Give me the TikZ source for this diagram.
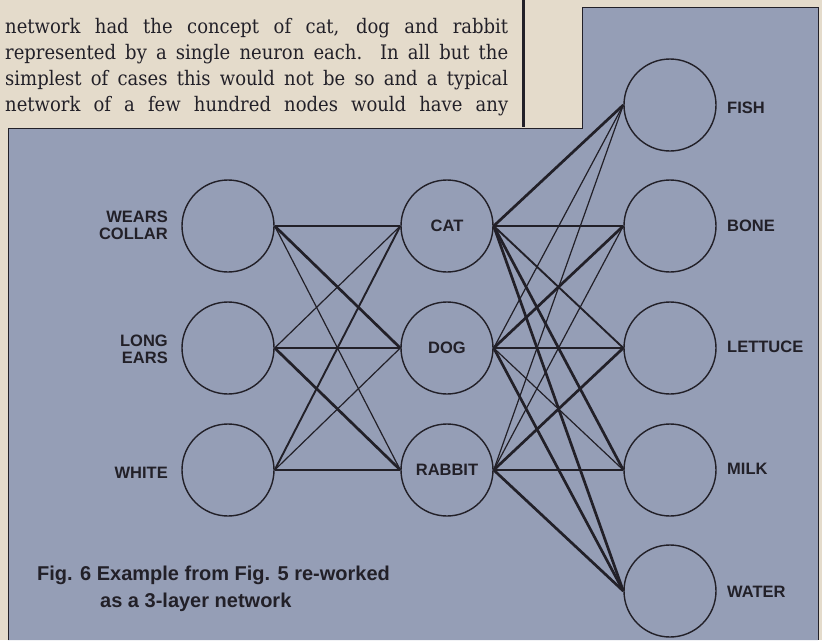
\documentclass[tikz,border=0pt]{standalone}
\usepackage{fontspec}
\setmainfont{DejaVu Serif}[FakeStretch = 0.9]
\setsansfont{Liberation Sans}
\usepackage{tikz}
\usetikzlibrary{arrows, arrows.meta}
\definecolor{paper}{RGB}{228,219,203}
\definecolor{panel}{RGB}{149,158,182}
\definecolor{ink}{RGB}{34,32,40}
\tikzset{neuron/.style = {shape = circle, draw = ink, line width = 1.4pt, minimum size = 92pt, inner sep = 0pt, text = ink, font = \sffamily\bfseries\fontsize{16.5}{17}\selectfont}}
\tikzset{inlabel/.style = {text = ink, align = right, anchor = east, inner sep = 0pt, font = \sffamily\bfseries\fontsize{16.5}{17}\selectfont}}
\tikzset{outlabel/.style = {text = ink, anchor = west, inner sep = 0pt, font = \sffamily\bfseries\fontsize{16.5}{17}\selectfont}}
\tikzset{figcaption/.style = {text = ink, anchor = base west, inner sep = 0pt, font = \sffamily\bfseries\fontsize{20}{24}\selectfont}}
\tikzset{bodytext/.style = {text = ink, anchor = base west, inner sep = 0pt, font = \fontsize{20}{27}\selectfont}}
\tikzset{edge/.style = {-, draw = ink, line width = 1.2pt}}
\tikzset{mid/.style = {edge, line width = 1.9pt}}
\tikzset{strong/.style = {edge, line width = 2.7pt}}

\begin{document}
\begin{tikzpicture}[x = 1pt, y = -1pt]
				\useasboundingbox (0, 0) rectangle (822, 640);
				\fill[paper] (0, 0) rectangle (822, 640);
				\fill[panel] (8, 640) -- (8, 128) -- (582, 128) -- (582, 7) -- (818, 7) -- (818, 640) -- cycle;
				\draw[ink, line width = 1pt] (8, 640) -- (8, 128) -- (582, 128) -- (582, 7) -- (818, 7) -- (818, 640);
				\draw[ink, line width = 3pt] (523, 0) -- (523, 127);

				\node[bodytext] (l1) at (5, 33) {\makebox[503pt][s]{network had the concept of cat, dog and rabbit}};
				\node[bodytext] (l2) at (5, 59) {\makebox[503pt][s]{represented by a single neuron each. In all but the}};
				\node[bodytext] (l3) at (5, 85) {\makebox[503pt][s]{simplest of cases this would not be so and a typical}};
				\node[bodytext] (l4) at (5, 111) {\makebox[503pt][s]{network of a few hundred nodes would have any}};

				\node[neuron] (collar) at (228, 226) {};
				\node[neuron] (ears) at (228, 348) {};
				\node[neuron] (white) at (228, 470) {};

				\node[neuron] (cat) at (447, 226) {CAT};
				\node[neuron] (dog) at (447, 348) {DOG};
				\node[neuron] (rabbit) at (447, 470) {RABBIT};

				\node[neuron] (fish) at (670, 105) {};
				\node[neuron] (bone) at (670, 226) {};
				\node[neuron] (lettuce) at (670, 348) {};
				\node[neuron] (milk) at (670, 470) {};
				\node[neuron] (water) at (670, 591) {};

				\node[inlabel] (tcollar) at (168, 225) {WEARS\\COLLAR};
				\node[inlabel] (tears) at (168, 349) {LONG\\EARS};
				\node[inlabel] (twhite) at (168, 473) {WHITE};

				\node[outlabel] (tfish) at (727, 108) {FISH};
				\node[outlabel] (tbone) at (727, 226) {BONE};
				\node[outlabel] (tlettuce) at (727, 347) {LETTUCE};
				\node[outlabel] (tmilk) at (727, 469) {MILK};
				\node[outlabel] (twater) at (727, 592) {WATER};

				\draw[strong] (collar.east) to (cat.west);
				\draw[strong] (collar.east) to (dog.west);
				\draw[edge] (collar.east) to (rabbit.west);
				\draw[edge] (ears.east) to (cat.west);
				\draw[strong] (ears.east) to (dog.west);
				\draw[strong] (ears.east) to (rabbit.west);
				\draw[mid] (white.east) to (cat.west);
				\draw[edge] (white.east) to (dog.west);
				\draw[strong] (white.east) to (rabbit.west);

				\draw[strong] (cat.east) to (fish.west);
				\draw[mid] (cat.east) to (bone.west);
				\draw[mid] (cat.east) to (lettuce.west);
				\draw[strong] (cat.east) to (milk.west);
				\draw[strong] (cat.east) to (water.west);
				\draw[edge] (dog.east) to (fish.west);
				\draw[strong] (dog.east) to (bone.west);
				\draw[mid] (dog.east) to (lettuce.west);
				\draw[edge] (dog.east) to (milk.west);
				\draw[strong] (dog.east) to (water.west);
				\draw[edge] (rabbit.east) to (fish.west);
				\draw[edge] (rabbit.east) to (bone.west);
				\draw[strong] (rabbit.east) to (lettuce.west);
				\draw[strong] (rabbit.east) to (milk.west);
				\draw[strong] (rabbit.east) to (water.west);

				\node[figcaption] (cap1) at (37, 580) {Fig. 6 Example from Fig. 5 re-worked};
				\node[figcaption] (cap2) at (100, 607) {as a 3-layer network};
			\end{tikzpicture}
\end{document}
